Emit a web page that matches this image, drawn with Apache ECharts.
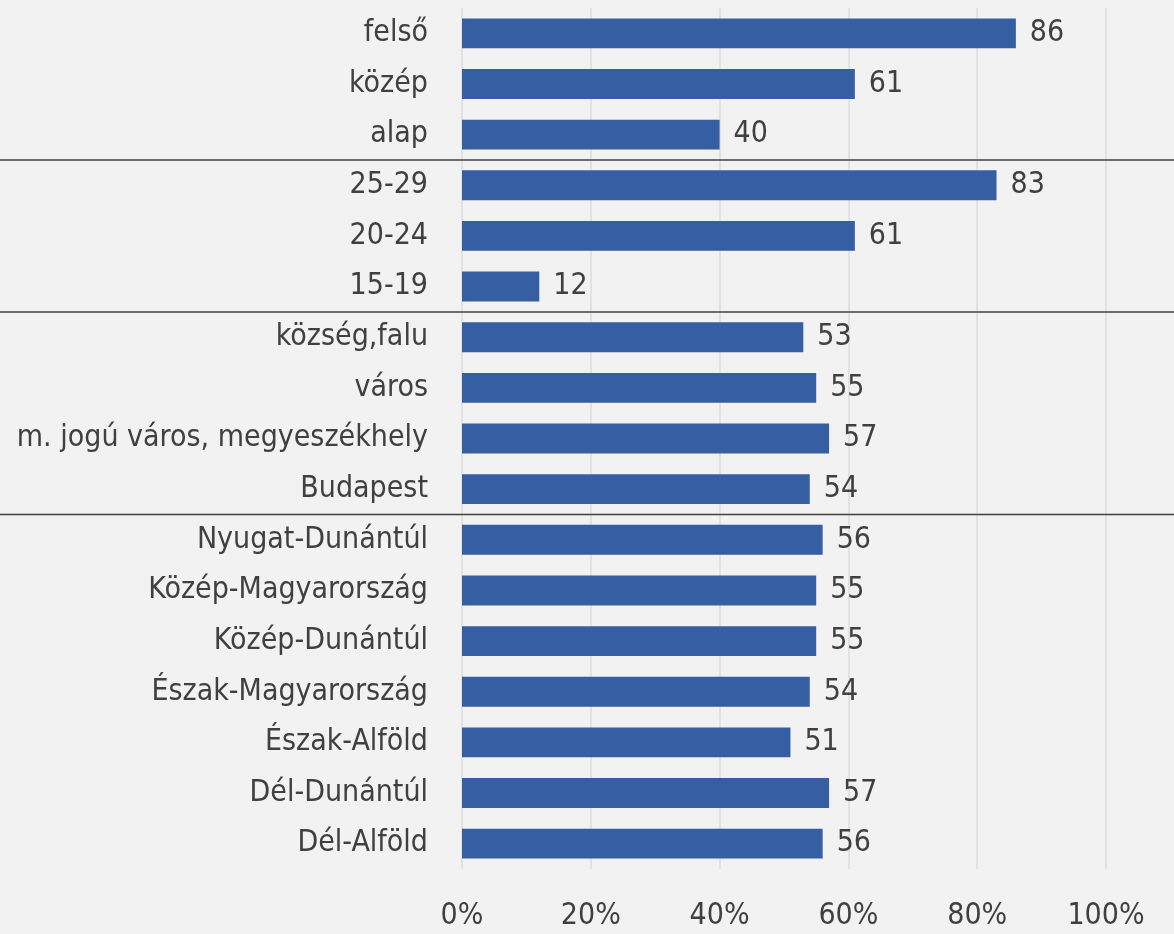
<!DOCTYPE html>
<html>
<head>
<meta charset="UTF-8">
<title>chart</title>
<script src="https://cdn.jsdelivr.net/npm/echarts@6/dist/echarts.min.js"></script>
<style>
  html, body { margin: 0; padding: 0; background: #f2f2f2; }
  #main { width: 1174px; height: 934px; }
</style>
</head>
<body>
<div id="main"></div>
<script>
  // categories top to bottom
  var categories = ['felső', 'közép', 'alap', '25-29', '20-24', '15-19',
    'község,falu', 'város', 'm. jogú város, megyeszékhely', 'Budapest',
    'Nyugat-Dunántúl', 'Közép-Magyarország', 'Közép-Dunántúl', 'Észak-Magyarország',
    'Észak-Alföld', 'Dél-Dunántúl', 'Dél-Alföld'];
  var values = [86, 61, 40, 83, 61, 12, 53, 55, 57, 54, 56, 55, 55, 54, 51, 57, 56];
  // group separators drawn after these category indexes
  var groupEnds = [2, 5, 9];
  var xTicks = [0, 20, 40, 60, 80, 100];

  var font = '"DejaVu Sans Condensed", sans-serif';
  var chart = echarts.init(document.getElementById('main'));
  chart.setOption({
    backgroundColor: '#f2f2f2',
    animation: false,
    grid: { left: 462, right: 68, top: 8, bottom: 65, outerBoundsMode: 'none' },
    xAxis: {
      type: 'value', min: xTicks[0], max: xTicks[xTicks.length - 1], interval: 20,
      axisLine: { show: false }, axisTick: { show: false },
      splitLine: { lineStyle: { color: '#dcdcdc', width: 1.5 } },
      axisLabel: { formatter: '{value}%', color: '#404040', fontSize: 30, fontFamily: font, margin: 32 }
    },
    yAxis: {
      type: 'category', data: categories, inverse: true,
      axisLine: { show: false }, axisTick: { show: false },
      axisLabel: { color: '#404040', fontSize: 30, fontFamily: font, margin: 34 }
    },
    series: [{
      type: 'bar', data: values, barWidth: '59%',
      itemStyle: { color: '#355ea3' },
      label: { show: true, position: 'right', distance: 14, color: '#404040', fontSize: 30, fontFamily: font }
    }]
  });

  // separator lines between groups, spanning whole width
  var lines = groupEnds.map(function (i) {
    var y = (chart.convertToPixel({ yAxisIndex: 0 }, categories[i]) +
             chart.convertToPixel({ yAxisIndex: 0 }, categories[i + 1])) / 2;
    return {
      type: 'line', shape: { x1: 0, y1: y, x2: 1174, y2: y },
      style: { stroke: '#404040', lineWidth: 1.5 }, z: 10
    };
  });
  chart.setOption({ graphic: lines });
</script>
</body>
</html>
